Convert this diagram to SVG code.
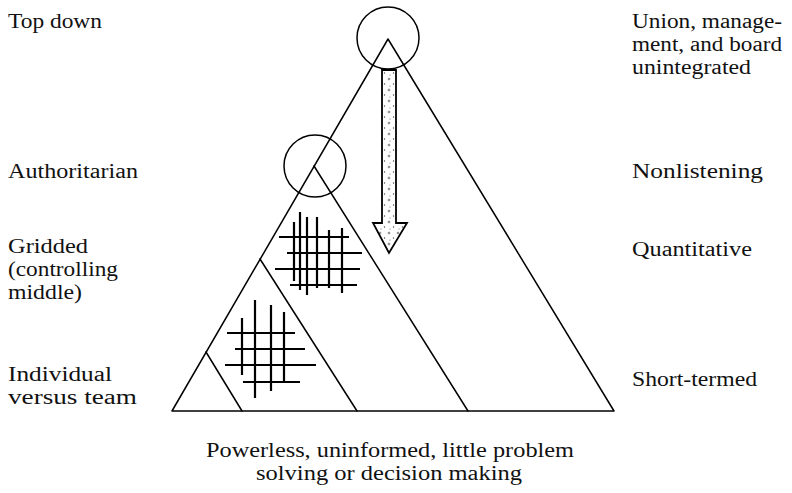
<svg xmlns="http://www.w3.org/2000/svg" width="792" height="493" viewBox="0 0 792 493">
<style>
.ln{fill:none;stroke:#000;stroke-width:1.5;stroke-linecap:round;stroke-linejoin:round}
.gr{fill:none;stroke:#000;stroke-width:2.2;stroke-linecap:butt}
.t{font-family:"Liberation Serif","Times New Roman",serif;font-size:20px;fill:#111}
.c{text-anchor:middle}
</style>
<defs>
<pattern id="stip" width="9" height="11" patternUnits="userSpaceOnUse">
<rect width="9" height="11" fill="#fff"/>
<circle cx="2" cy="2" r="0.9" fill="none" stroke="#333" stroke-width="0.6"/>
<circle cx="6.5" cy="7" r="0.7" fill="#444"/>
<circle cx="3" cy="9" r="0.5" fill="#555"/>
</pattern>
</defs>
<rect width="792" height="493" fill="#fff"/>
<g id="pyramid">
<path class="ln" d="M172,411 L614,411 M172,411 L388,39 L614,411"/>
<path class="ln" d="M314,166 L468,411"/>
<path class="ln" d="M260,259 L357,411"/>
<path class="ln" d="M206,352 L242,411"/>
</g>
<g id="top-circle"><circle class="ln" cx="388" cy="38" r="31"/></g>
<g id="mid-circle"><circle class="ln" cx="315" cy="166" r="31"/></g>
<g id="upper-grid">
<path class="gr" d="M294,222V281 M300,212V290 M307,217V295 M317,217V288 M329,230V288 M342,228V293 M279,237H349 M287,253H362 M275,269H360 M290,285H357"/>
</g>
<g id="lower-grid">
<path class="gr" d="M242,318V375 M255,300V398 M271,305V391 M284,312V383 M227,333H295 M235,349H305 M225,365H316 M243,382H300"/>
</g>
<g id="connectors">
<path d="M382,70 L396,70 L396,223 L407,223 L389,253 L373,223 L382,223 Z" fill="url(#stip)" stroke="#000" stroke-width="1.8" stroke-linejoin="miter"/>
</g>
<g id="left-labels">
<text class="t" x="8" y="28" textLength="94" lengthAdjust="spacingAndGlyphs">Top down</text>
<text class="t" x="8" y="178" textLength="130" lengthAdjust="spacingAndGlyphs">Authoritarian</text>
<text class="t" x="8" y="253" textLength="80" lengthAdjust="spacingAndGlyphs">Gridded</text>
<text class="t" x="8" y="276" textLength="110" lengthAdjust="spacingAndGlyphs">(controlling</text>
<text class="t" x="8" y="299" textLength="74" lengthAdjust="spacingAndGlyphs">middle)</text>
<text class="t" x="8" y="381" textLength="104" lengthAdjust="spacingAndGlyphs">Individual</text>
<text class="t" x="8" y="404" textLength="129" lengthAdjust="spacingAndGlyphs">versus team</text>
</g>
<g id="right-labels">
<text class="t" x="632" y="28" textLength="150" lengthAdjust="spacingAndGlyphs">Union, manage-</text>
<text class="t" x="632" y="51" textLength="150" lengthAdjust="spacingAndGlyphs">ment, and board</text>
<text class="t" x="632" y="74" textLength="119" lengthAdjust="spacingAndGlyphs">unintegrated</text>
<text class="t" x="632" y="178" textLength="131" lengthAdjust="spacingAndGlyphs">Nonlistening</text>
<text class="t" x="632" y="256" textLength="120" lengthAdjust="spacingAndGlyphs">Quantitative</text>
<text class="t" x="632" y="386" textLength="125" lengthAdjust="spacingAndGlyphs">Short-termed</text>
</g>
<g id="bottom-label">
<text class="t" x="206" y="457" textLength="368" lengthAdjust="spacingAndGlyphs">Powerless, uninformed, little problem</text>
<text class="t" x="256" y="480" textLength="266" lengthAdjust="spacingAndGlyphs">solving or decision making</text>
</g>
</svg>
